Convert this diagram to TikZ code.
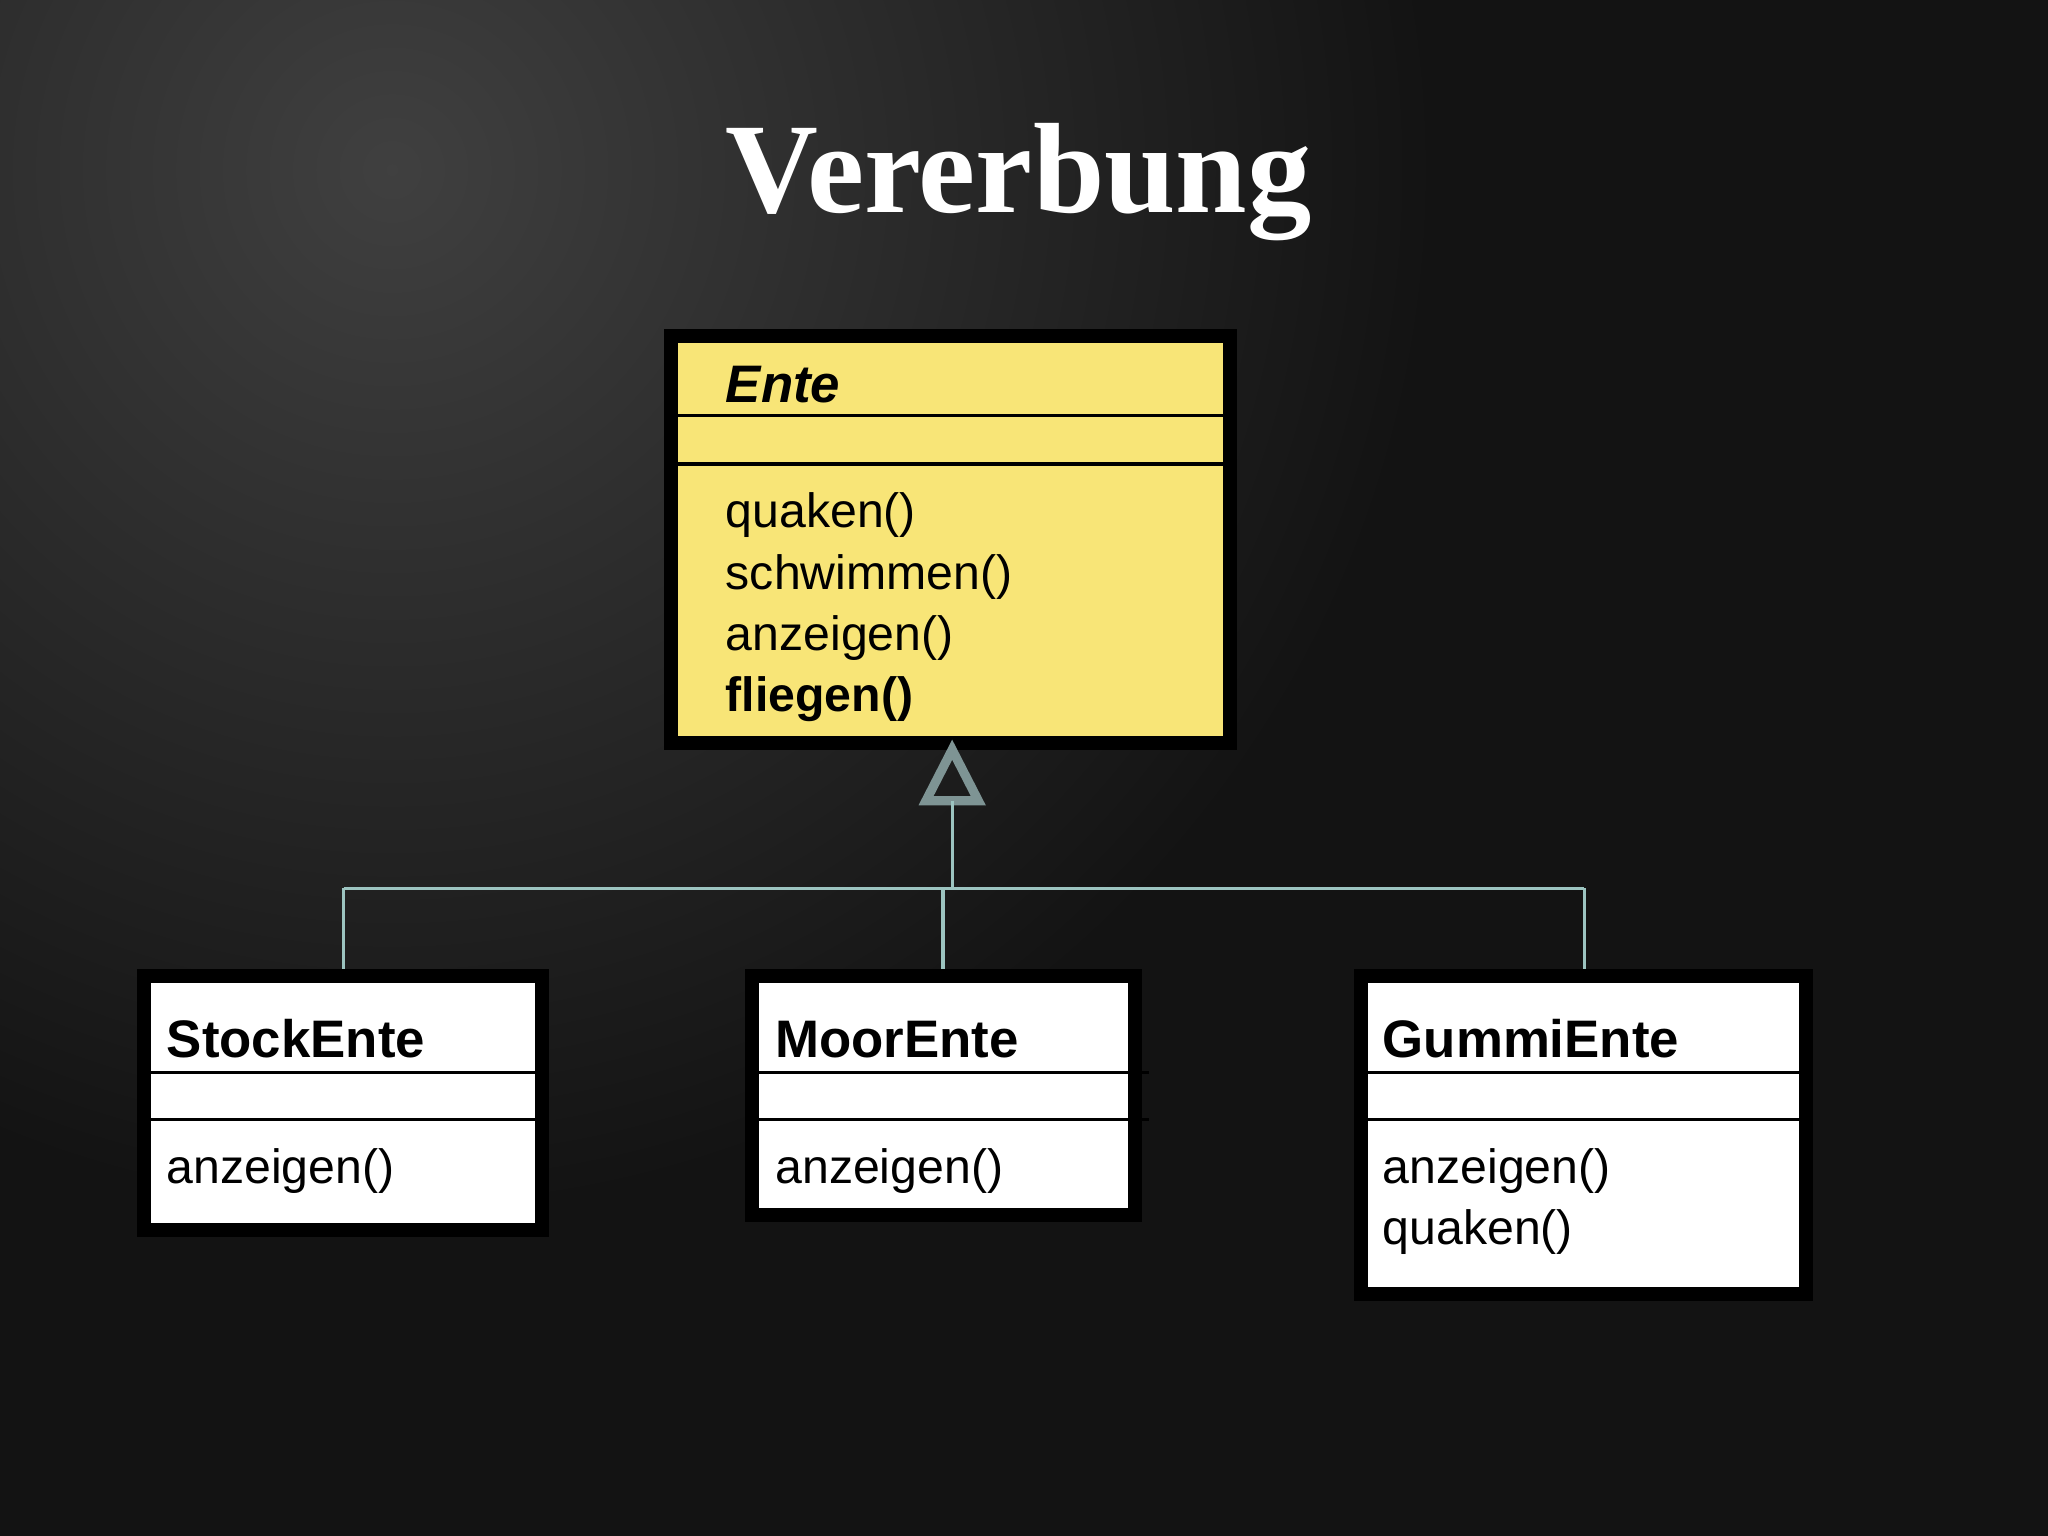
\documentclass[tikz,border=0pt]{standalone}
\usepackage{fontspec}
\setmainfont{Liberation Sans}
\newfontfamily\titlefont{Liberation Serif}
\definecolor{bg}{HTML}{131313}
\definecolor{ylw}{HTML}{F8E577}
\definecolor{conn}{HTML}{9CC4C0}
\definecolor{tri}{HTML}{7E9494}
\tikzset{
  umlbox/.style={draw=black,line width=3pt},
  sep/.style={draw=black,line width=0.8pt},
  mtext/.style={anchor=base west,inner sep=0pt,font=\fontsize{10.5pt}{12pt}\selectfont},
  ctext/.style={anchor=base west,inner sep=0pt,font=\fontsize{11.5pt}{13pt}\selectfont\bfseries},
  link/.style={draw=conn,line width=0.7pt}
}
\begin{document}
\begin{tikzpicture}[x=0.1mm,y=-0.1mm]
\useasboundingbox (0,0) rectangle (1568,1176);
\fill[bg] (0,0) rectangle (1568,1176);
\begin{scope}
\clip (0,0) rectangle (1568,1176);
\shade[inner color=black!75!white, outer color=bg] (300,130) circle (800);
\end{scope}
\node[anchor=base,inner sep=0pt,text=white,font=\titlefont\bfseries\fontsize{28pt}{32pt}\selectfont] (title) at (780,163) {Vererbung};
% Ente
\fill[ylw] (514,257) rectangle (942,569);
\draw[umlbox] (514,257) rectangle (942,569);
\draw[sep] (514,318) -- (942,318);
\draw[sep] (514,355) -- (942,355);
\node[ctext,font=\fontsize{11.5pt}{13pt}\selectfont\bfseries\itshape] (ente) at (555,308) {Ente};
\node[mtext] (m1) at (555,404) {quaken()};
\node[mtext] (m2) at (555,451) {schwimmen()};
\node[mtext] (m3) at (555,498) {anzeigen()};
\node[mtext,font=\fontsize{10.5pt}{12pt}\selectfont\bfseries] (m4) at (555,545) {fliegen()};
\coordinate (apex) at (729,574);
\draw[tri,line width=2pt,line join=miter] (apex) -- (709,613) -- (749,613) -- cycle;
\coordinate (stem) at (729,613);
\coordinate (junc) at (729,680);
\draw[link] (stem) -- (junc);
\draw[link] (263,680) -- (1213,680);
\draw[link] (263,680) -- (263,747);
\draw[link] (722,680) -- (722,747);
\draw[link] (1213,680) -- (1213,747);
% StockEnte
\fill[white] (110,747) rectangle (415,942);
\draw[umlbox] (110,747) rectangle (415,942);
\draw[sep] (110,821) -- (415,821);
\draw[sep] (110,857) -- (415,857);
\node[ctext] (s) at (127,810) {StockEnte};
\node[mtext] (s1) at (127,906) {anzeigen()};
% MoorEnte
\fill[white] (576,747) rectangle (869,930);
\draw[umlbox] (576,747) rectangle (869,930);
\draw[sep] (576,821) -- (880,821);
\draw[sep] (576,857) -- (880,857);
\node[ctext] (mo) at (593,810) {MoorEnte};
\node[mtext] (mo1) at (593,906) {anzeigen()};
% GummiEnte
\fill[white] (1042,747) rectangle (1383,991);
\draw[umlbox] (1042,747) rectangle (1383,991);
\draw[sep] (1042,821) -- (1383,821);
\draw[sep] (1042,857) -- (1383,857);
\node[ctext] (g) at (1058,810) {GummiEnte};
\node[mtext] (g1) at (1058,906) {anzeigen()};
\node[mtext] (g2) at (1058,953) {quaken()};
\end{tikzpicture}
\end{document}
